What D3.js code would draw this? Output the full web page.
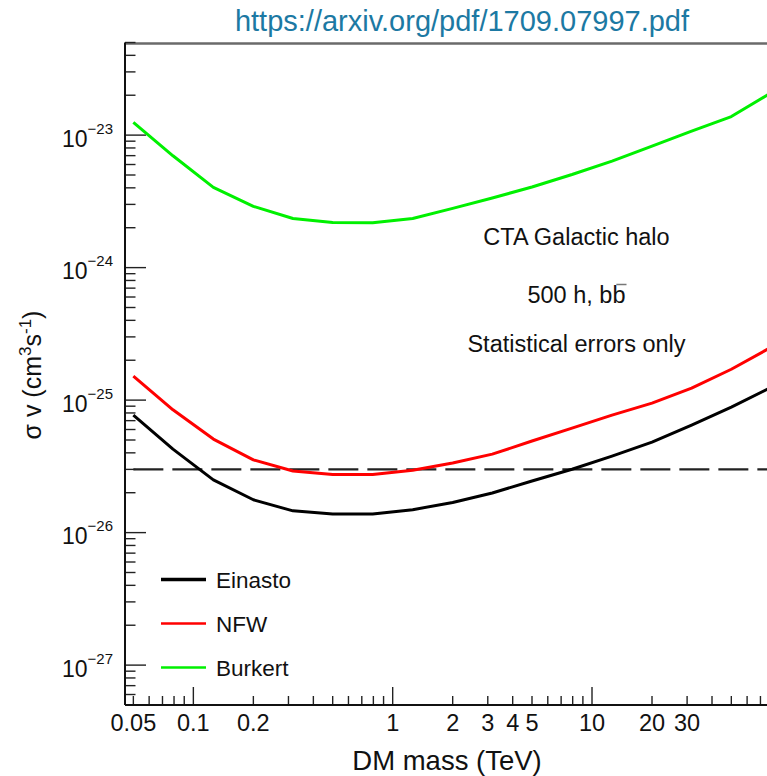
<!DOCTYPE html>
<html>
<head>
<meta charset="utf-8">
<script src="https://cdn.jsdelivr.net/npm/d3@7"></script>
<style>
  html, body { margin: 0; padding: 0; background: #fff; }
  svg { display: block; font-family: "Liberation Sans", Arial, Helvetica, sans-serif; }
</style>
</head>
<body>
<svg id="chart" width="767" height="776"></svg>
<script>
// DM mass grid (TeV) and 95% C.L. sensitivity curves on <sigma v> (cm^3 s^-1)
const massTeV = [0.05, 0.079, 0.126, 0.2, 0.316, 0.5, 0.794, 1.26, 2, 3.16, 5, 7.94, 12.6, 20, 31.6, 50, 79.4];
const einasto = [7.7e-26, 4.27e-26, 2.5e-26, 1.77e-26, 1.46e-26, 1.38e-26, 1.38e-26, 1.49e-26, 1.69e-26,
                 1.99e-26, 2.45e-26, 3.01e-26, 3.78e-26, 4.82e-26, 6.48e-26, 8.85e-26, 1.25e-25];
const nfw = [1.52e-25, 8.45e-26, 5.08e-26, 3.54e-26, 2.92e-26, 2.75e-26, 2.75e-26, 2.96e-26, 3.35e-26,
             3.91e-26, 4.91e-26, 6.15e-26, 7.71e-26, 9.49e-26, 1.23e-25, 1.71e-25, 2.51e-25];
const burkert = [1.25e-23, 6.98e-24, 4.03e-24, 2.9e-24, 2.35e-24, 2.19e-24, 2.18e-24, 2.35e-24, 2.8e-24,
                 3.35e-24, 4.06e-24, 5.04e-24, 6.37e-24, 8.26e-24, 1.07e-23, 1.38e-23, 2.09e-23];
// thermal relic cross-section reference
const thermalRelic = 3e-26;

const seriesNames = ["Einasto", "NFW", "Burkert"];
const seriesColors = ["#000000", "#ff0000", "#00f000"];
const xTickLabels = [0.05, 0.1, 0.2, 1, 2, 3, 4, 5, 10, 20, 30];
const yDecades = [-27, -26, -25, -24, -23];
const annotations = ["CTA Galactic halo", "500 h, bb", "Statistical errors only"];

const svg = d3.select("#chart");
const plotLeft = 125, plotRight = 767, plotTop = 43.5, plotBottom = 705;

const x = d3.scaleLog().domain([0.0454, 75.5]).range([plotLeft, plotRight]);
const y = d3.scaleLog().domain([5e-28, 5e-23]).range([plotBottom, 42.5]);

// title link
svg.append("text")
  .attr("x", 462).attr("y", 31)
  .attr("text-anchor", "middle")
  .attr("font-size", 29)
  .attr("fill", "#1c79a3")
  .text("https://arxiv.org/pdf/1709.07997.pdf");

// clip region for curves
svg.append("clipPath").attr("id", "plotclip")
  .append("rect").attr("x", plotLeft).attr("y", plotTop)
  .attr("width", plotRight - plotLeft).attr("height", plotBottom - plotTop);

// frame: top edge
svg.append("line")
  .attr("x1", plotLeft).attr("x2", plotRight).attr("y1", plotTop).attr("y2", plotTop)
  .attr("stroke", "#6a6a6a").attr("stroke-width", 2.5);

// y ticks
const yTicksAll = [];
for (let e = -28; e <= -23; e++) {
  for (let k = 1; k <= 9; k++) {
    const v = k * Math.pow(10, e);
    if (v >= 5e-28 * 0.999 && v <= 5e-23 * 1.001) yTicksAll.push({v, major: k === 1});
  }
}
const gy = svg.append("g");
gy.selectAll("line").data(yTicksAll).join("line")
  .attr("x1", plotLeft).attr("x2", d => plotLeft + (d.major ? 21 : 10.5))
  .attr("y1", d => y(d.v)).attr("y2", d => y(d.v))
  .attr("stroke", "#222").attr("stroke-width", 1.4);

const yl = gy.selectAll("text").data(yDecades).join("text")
  .attr("x", 113).attr("y", d => y(Math.pow(10, d)) + 11.5)
  .attr("text-anchor", "end")
  .attr("font-size", 23)
  .attr("fill", "#111");
yl.append("tspan").text("10");
yl.append("tspan").attr("dy", -13).attr("font-size", 15).text(d => "\u2212" + Math.abs(d));

// x ticks
const xTicksAll = [];
for (let e = -2; e <= 1; e++) {
  for (let k = 1; k <= 9; k++) {
    const v = k * Math.pow(10, e);
    if (v >= 0.0454 && v <= 75.5) xTicksAll.push({v, major: k === 1});
  }
}
const gx = svg.append("g");
gx.selectAll("line").data(xTicksAll).join("line")
  .attr("x1", d => x(d.v)).attr("x2", d => x(d.v))
  .attr("y1", plotBottom).attr("y2", d => plotBottom - (d.major ? 18 : 9))
  .attr("stroke", "#222").attr("stroke-width", 1.4);
gx.selectAll("text").data(xTickLabels).join("text")
  .attr("x", d => x(d)).attr("y", 731)
  .attr("text-anchor", "middle")
  .attr("font-size", 23.5)
  .attr("fill", "#111")
  .text(d => String(d));

// axis lines
svg.append("line").attr("x1", plotLeft).attr("x2", plotLeft).attr("y1", plotTop - 1).attr("y2", plotBottom)
  .attr("stroke", "#111").attr("stroke-width", 2);
svg.append("line").attr("x1", plotLeft).attr("x2", plotRight).attr("y1", plotBottom).attr("y2", plotBottom)
  .attr("stroke", "#111").attr("stroke-width", 2);

// axis titles
svg.append("text")
  .attr("x", 447).attr("y", 770)
  .attr("text-anchor", "middle")
  .attr("font-size", 27.5)
  .attr("fill", "#111")
  .text("DM mass (TeV)");

const yt = svg.append("text")
  .attr("transform", "translate(41,375) rotate(-90)")
  .attr("text-anchor", "middle")
  .attr("font-size", 25)
  .attr("fill", "#111");
yt.append("tspan").text("\u03c3 v (cm");
yt.append("tspan").attr("dy", -10).attr("font-size", 17).text("3");
yt.append("tspan").attr("dy", 10).text("s");
yt.append("tspan").attr("dy", -10).attr("font-size", 17).text("-1");
yt.append("tspan").attr("dy", 10).text(")");

// curves
const plot = svg.append("g").attr("clip-path", "url(#plotclip)");
const lineGen = d3.line().x(d => x(d[0])).y(d => y(d[1]));

plot.append("line")
  .attr("x1", x(massTeV[0])).attr("x2", plotRight)
  .attr("y1", y(thermalRelic)).attr("y2", y(thermalRelic))
  .attr("stroke", "#222").attr("stroke-width", 2.2)
  .attr("stroke-dasharray", "30,9");

[einasto, nfw, burkert].forEach((vals, i) => {
  plot.append("path")
    .datum(massTeV.map((m, j) => [m, vals[j]]))
    .attr("d", lineGen)
    .attr("fill", "none")
    .attr("stroke", seriesColors[i])
    .attr("stroke-width", 3)
    .attr("stroke-linejoin", "round");
});

// annotations
const annoY = [245, 302.5, 351.5];
annotations.forEach((t, i) => {
  const el = svg.append("text")
    .attr("x", 576.5).attr("y", annoY[i])
    .attr("text-anchor", "middle")
    .attr("font-size", 23.5)
    .attr("fill", "#111")
    .text(t);
  if (i === 1) {
    // bar over the anti-quark
    const ext = el.node().getExtentOfChar(t.length - 1);
    svg.append("line")
      .attr("x1", ext.x + ext.width * 0.3).attr("x2", ext.x + ext.width + 1)
      .attr("y1", ext.y + 3).attr("y2", ext.y + 3)
      .attr("stroke", "#777").attr("stroke-width", 1.5);
  }
});

// legend
const legY = [579.5, 623.5, 667.5];
const leg = svg.append("g");
seriesNames.forEach((n, i) => {
  leg.append("line")
    .attr("x1", 161).attr("x2", 206)
    .attr("y1", legY[i]).attr("y2", legY[i])
    .attr("stroke", seriesColors[i])
    .attr("stroke-width", i === 0 ? 3.4 : 2.6);
  leg.append("text")
    .attr("x", 216).attr("y", legY[i] + 8)
    .attr("font-size", 22.5)
    .attr("fill", "#111")
    .text(n);
});
</script>
</body>
</html>
